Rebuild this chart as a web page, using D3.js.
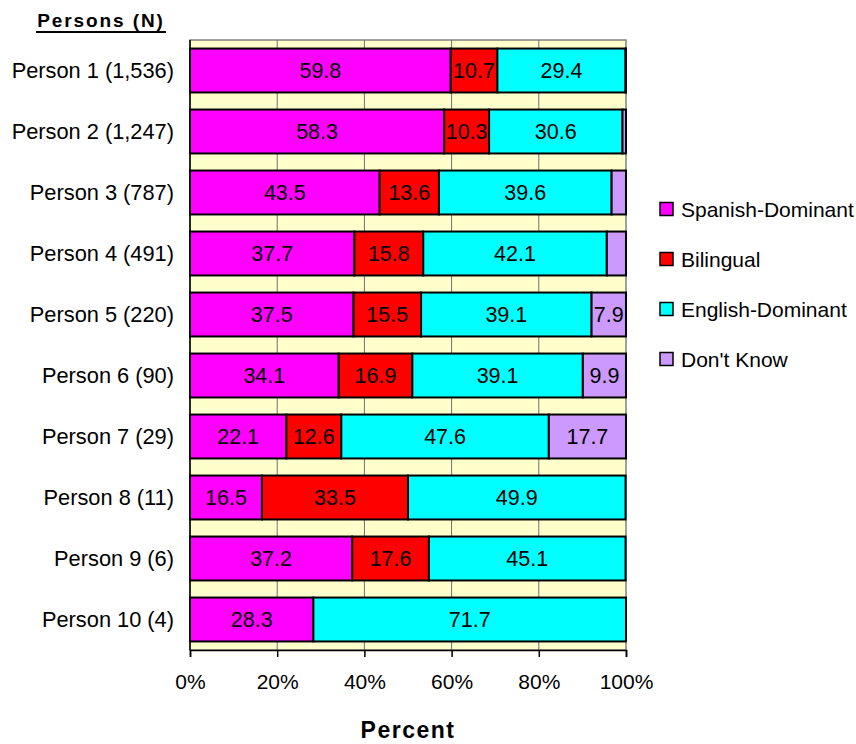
<!DOCTYPE html>
<html>
<head>
<meta charset="utf-8">
<script src="https://cdn.jsdelivr.net/npm/d3@7"></script>
<style>
  html, body { margin: 0; padding: 0; background: #fff; }
  svg { display: block; font-family: "Liberation Sans", Arial, sans-serif; }
</style>
</head>
<body>
<svg id="chart" width="856" height="744"></svg>
<script>
// Language-use shares per person group (percent of respondents)
const persons = ["Person 1 (1,536)", "Person 2 (1,247)", "Person 3 (787)", "Person 4 (491)",
                 "Person 5 (220)", "Person 6 (90)", "Person 7 (29)", "Person 8 (11)",
                 "Person 9 (6)", "Person 10 (4)"];
const spanishDominant = [59.8, 58.3, 43.5, 37.7, 37.5, 34.1, 22.1, 16.5, 37.2, 28.3];
const bilingual       = [10.7, 10.3, 13.6, 15.8, 15.5, 16.9, 12.6, 33.5, 17.6, 0];
const englishDominant = [29.4, 30.6, 39.6, 42.1, 39.1, 39.1, 47.6, 49.9, 45.1, 71.7];
const dontKnow        = [0.1, 0.8, 3.3, 4.4, 7.9, 9.9, 17.7, 0, 0, 0];
const seriesNames = ["Spanish-Dominant", "Bilingual", "English-Dominant", "Don't Know"];
const seriesColors = ["#FF00FF", "#FF0000", "#00FFFF", "#CC99FF"];
const tickValues = [0, 20, 40, 60, 80, 100];

const rows = persons.map((p, i) => ({
  person: p,
  "Spanish-Dominant": spanishDominant[i],
  "Bilingual": bilingual[i],
  "English-Dominant": englishDominant[i],
  "Don't Know": dontKnow[i]
}));

const svg = d3.select("#chart");
const plot = { left: 190, right: 626, top: 40, bottom: 650 };

const x = d3.scaleLinear().domain([0, 100]).range([plot.left, plot.right]);
const y = d3.scaleBand().domain(persons).range([plot.top, plot.bottom]).paddingInner(0.28).paddingOuter(0.14);

// plot background
svg.append("rect")
  .attr("x", plot.left).attr("y", plot.top)
  .attr("width", plot.right - plot.left).attr("height", plot.bottom - plot.top)
  .attr("fill", "#FFFFCC").attr("stroke", "#808080").attr("stroke-width", 1.5);

// vertical gridlines
svg.append("g").selectAll("line")
  .data(tickValues.slice(1, -1))
  .join("line")
  .attr("x1", d => x(d)).attr("x2", d => x(d))
  .attr("y1", plot.top).attr("y2", plot.bottom)
  .attr("stroke", "#707070").attr("stroke-width", 1);

// stacked bars
const stack = d3.stack().keys(seriesNames);
const stacked = stack(rows);
const color = d3.scaleOrdinal().domain(seriesNames).range(seriesColors);

const layers = svg.append("g").selectAll("g")
  .data(stacked)
  .join("g")
  .attr("fill", d => color(d.key));

layers.selectAll("rect")
  .data(d => d.filter(s => s[1] - s[0] > 0))
  .join("rect")
  .attr("x", d => x(d[0]))
  .attr("y", d => y(d.data.person))
  .attr("width", d => x(d[1]) - x(d[0]))
  .attr("height", y.bandwidth())
  .attr("stroke", "#000")
  .attr("stroke-width", 2);

// value labels on wider segments
layers.selectAll("text")
  .data(d => d.filter(s => s[1] - s[0] >= 5))
  .join("text")
  .attr("x", d => (x(d[0]) + x(d[1])) / 2)
  .attr("y", d => y(d.data.person) + y.bandwidth() / 2)
  .attr("dy", "0.36em")
  .attr("text-anchor", "middle")
  .attr("fill", "#000")
  .attr("font-size", 21.5)
  .text(d => (d[1] - d[0]).toFixed(1));

// left axis line
svg.append("line")
  .attr("x1", plot.left).attr("x2", plot.left)
  .attr("y1", plot.top).attr("y2", plot.bottom)
  .attr("stroke", "#000").attr("stroke-width", 1.5);

// bottom axis
const xAxis = d3.axisBottom(x)
  .tickValues(tickValues)
  .tickFormat(d => d + "%")
  .tickSize(7)
  .tickPadding(17);
const gx = svg.append("g")
  .attr("transform", `translate(0,${plot.bottom})`)
  .call(xAxis);
gx.select(".domain").attr("stroke", "#000").attr("stroke-width", 1.5);
gx.selectAll(".tick line").attr("stroke", "#000").attr("stroke-width", 1.5);
gx.selectAll(".tick text")
  .attr("font-family", "Liberation Sans, Arial, sans-serif")
  .attr("font-size", 21)
  .attr("fill", "#000");

// category labels
svg.append("g").selectAll("text")
  .data(persons)
  .join("text")
  .attr("x", 174)
  .attr("y", d => y(d) + y.bandwidth() / 2)
  .attr("dy", "0.36em")
  .attr("text-anchor", "end")
  .attr("font-size", 21.8)
  .attr("fill", "#000")
  .text(d => d);

// column header
svg.append("text")
  .attr("x", 101).attr("y", 27)
  .attr("text-anchor", "middle")
  .attr("font-size", 19)
  .attr("font-weight", "bold")
  .attr("letter-spacing", 1.9)
  .attr("fill", "#000")
  .text("Persons (N)");
svg.append("line")
  .attr("x1", 36).attr("x2", 166)
  .attr("y1", 32).attr("y2", 32)
  .attr("stroke", "#000").attr("stroke-width", 2);

// axis title
svg.append("text")
  .attr("x", (plot.left + plot.right) / 2).attr("y", 738)
  .attr("text-anchor", "middle")
  .attr("font-size", 23)
  .attr("font-weight", "bold")
  .attr("letter-spacing", 1.5)
  .attr("fill", "#000")
  .text("Percent");

// legend
const legend = svg.append("g").selectAll("g")
  .data(seriesNames)
  .join("g")
  .attr("transform", (d, i) => `translate(660,${209 + i * 50})`);
legend.append("rect")
  .attr("x", 0).attr("y", -6.5)
  .attr("width", 13).attr("height", 13)
  .attr("fill", d => color(d))
  .attr("stroke", "#000").attr("stroke-width", 1.5);
legend.append("text")
  .attr("x", 21).attr("y", 0)
  .attr("dy", "0.36em")
  .attr("font-size", 21)
  .attr("fill", "#000")
  .text(d => d);
</script>
</body>
</html>
